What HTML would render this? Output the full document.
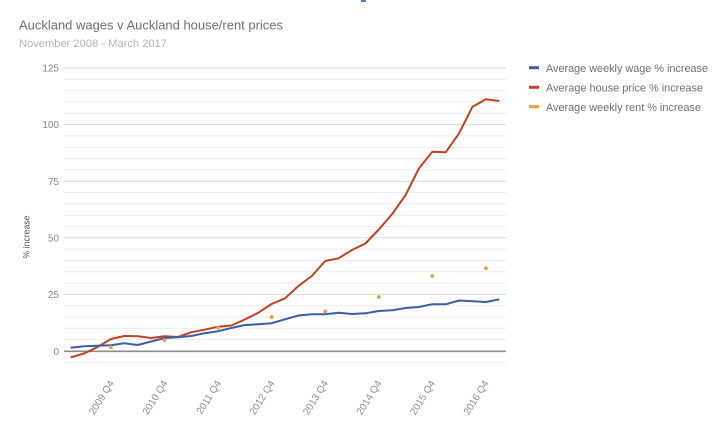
<!DOCTYPE html>
<html>
<head>
<meta charset="utf-8">
<style>
  html, body { margin:0; padding:0; background:#ffffff; }
  body { width:720px; height:433px; overflow:hidden; }
  svg { display:block; font-family:"Liberation Sans", Arial, sans-serif; }
</style>
</head>
<body>
<svg width="720" height="433" viewBox="0 0 720 433" xmlns="http://www.w3.org/2000/svg">
  <rect x="0" y="0" width="720" height="433" fill="#ffffff"/>
  <rect x="361" y="0" width="5" height="2" fill="#4a7bd0"/>

  <!-- Title -->
  <text x="19" y="29.5" font-size="13" fill="#6f6f6f" textLength="264" lengthAdjust="spacingAndGlyphs">Auckland wages v Auckland house/rent prices</text>
  <text x="19" y="47" font-size="11" fill="#b4b4b4" textLength="148" lengthAdjust="spacingAndGlyphs">November 2008 - March 2017</text>

  <!-- minor gridlines -->
  <g stroke="#ececec" stroke-width="1">
    <line x1="64" x2="506" y1="79.4" y2="79.4"/>
    <line x1="64" x2="506" y1="90.7" y2="90.7"/>
    <line x1="64" x2="506" y1="102.0" y2="102.0"/>
    <line x1="64" x2="506" y1="113.3" y2="113.3"/>
    <line x1="64" x2="506" y1="135.9" y2="135.9"/>
    <line x1="64" x2="506" y1="147.2" y2="147.2"/>
    <line x1="64" x2="506" y1="158.6" y2="158.6"/>
    <line x1="64" x2="506" y1="169.9" y2="169.9"/>
    <line x1="64" x2="506" y1="192.5" y2="192.5"/>
    <line x1="64" x2="506" y1="203.8" y2="203.8"/>
    <line x1="64" x2="506" y1="215.2" y2="215.2"/>
    <line x1="64" x2="506" y1="226.5" y2="226.5"/>
    <line x1="64" x2="506" y1="249.1" y2="249.1"/>
    <line x1="64" x2="506" y1="260.4" y2="260.4"/>
    <line x1="64" x2="506" y1="271.7" y2="271.7"/>
    <line x1="64" x2="506" y1="283.1" y2="283.1"/>
    <line x1="64" x2="506" y1="305.7" y2="305.7"/>
    <line x1="64" x2="506" y1="317.0" y2="317.0"/>
    <line x1="64" x2="506" y1="328.3" y2="328.3"/>
    <line x1="64" x2="506" y1="339.6" y2="339.6"/>
    <line x1="64" x2="506" y1="362.6" y2="362.6"/>
  </g>
  <!-- major gridlines -->
  <g stroke="#d9d9d9" stroke-width="1">
    <line x1="64" x2="506" y1="68.1" y2="68.1"/>
    <line x1="64" x2="506" y1="124.6" y2="124.6"/>
    <line x1="64" x2="506" y1="181.2" y2="181.2"/>
    <line x1="64" x2="506" y1="237.8" y2="237.8"/>
    <line x1="64" x2="506" y1="294.4" y2="294.4"/>
  </g>
  <line x1="64" x2="506" y1="351.3" y2="351.3" stroke="#8c8c8c" stroke-width="1.6"/>

  <!-- Y tick labels -->
  <g font-size="10" fill="#8a8a8a" text-anchor="end">
    <text x="59" y="71.7">125</text>
    <text x="59" y="128.2">100</text>
    <text x="59" y="184.8">75</text>
    <text x="59" y="241.4">50</text>
    <text x="59" y="298">25</text>
    <text x="59" y="354.9">0</text>
  </g>

  <!-- Y axis title -->
  <text transform="translate(29.5,237) rotate(-90)" font-size="9" fill="#555" text-anchor="middle" textLength="43" lengthAdjust="spacingAndGlyphs">% increase</text>

  <!-- X labels -->
  <g font-size="10" fill="#8e8e8e" text-anchor="end">
    <text transform="translate(114.5,383) rotate(-58)">2009 Q4</text>
    <text transform="translate(168,383) rotate(-58)">2010 Q4</text>
    <text transform="translate(221.5,383) rotate(-58)">2011 Q4</text>
    <text transform="translate(275,383) rotate(-58)">2012 Q4</text>
    <text transform="translate(328.5,383) rotate(-58)">2013 Q4</text>
    <text transform="translate(382,383) rotate(-58)">2014 Q4</text>
    <text transform="translate(435.5,383) rotate(-58)">2015 Q4</text>
    <text transform="translate(489,383) rotate(-58)">2016 Q4</text>
  </g>

  <!-- House price line -->
  <polyline fill="none" stroke="#c4411f" stroke-width="2" stroke-linejoin="round"
    points="70.7,357.3 84.1,353.5 97.5,347 110.9,339 124.3,336 137.7,336.3 151.1,338 164.5,336.3 177.9,337 191.2,332.3 204.6,329.7 218,326.7 231.4,325.5 244.8,319.5 258.2,312.8 271.6,304 285,298.3 298.4,286 311.8,276 325.2,261 338.6,258.3 352,250 365.4,243.5 378.8,229.5 392.2,214 405.6,195 418.9,168.5 432.3,151.7 445.7,152.3 459.1,133.3 472.5,106.7 485.9,99.3 499.3,101"/>

  <!-- Wage line -->
  <polyline fill="none" stroke="#3a5ea9" stroke-width="2" stroke-linejoin="round"
    points="70.7,347.7 84.1,346.3 97.5,345.8 110.9,345.2 124.3,343.3 137.7,345 151.1,341.5 164.5,338 177.9,337.3 191.2,336 204.6,333.2 218,331.2 231.4,328 244.8,325 258.2,324.3 271.6,323.2 285,319.3 298.4,315.5 311.8,314.3 325.2,314.3 338.6,312.7 352,314 365.4,313.3 378.8,311 392.2,310.3 405.6,308 418.9,307 432.3,304.2 445.7,304.3 459.1,300.5 472.5,301.3 485.9,302 499.3,299.3"/>

  <!-- Rent dots -->
  <g fill="#eda032">
    <circle cx="110.9" cy="347.3" r="1.9"/>
    <circle cx="164.5" cy="340" r="1.9"/>
    <circle cx="218" cy="327.7" r="1.9"/>
    <circle cx="271.6" cy="317" r="1.9"/>
    <circle cx="325.2" cy="311.3" r="1.9"/>
    <circle cx="378.8" cy="297" r="1.9"/>
    <circle cx="432.3" cy="276" r="1.9"/>
    <circle cx="485.9" cy="268.3" r="1.9"/>
  </g>

  <!-- Legend -->
  <rect x="529" y="66.2" width="10" height="3" fill="#3a5ea9"/>
  <rect x="529" y="85.8" width="10" height="3" fill="#c4411f"/>
  <rect x="529" y="105.2" width="10" height="3" fill="#eda032"/>
  <g font-size="11" fill="#707070">
    <text x="546" y="72" textLength="162" lengthAdjust="spacingAndGlyphs">Average weekly wage % increase</text>
    <text x="546" y="91.5" textLength="157" lengthAdjust="spacingAndGlyphs">Average house price % increase</text>
    <text x="546" y="111" textLength="155" lengthAdjust="spacingAndGlyphs">Average weekly rent % increase</text>
  </g>
</svg>
</body>
</html>
